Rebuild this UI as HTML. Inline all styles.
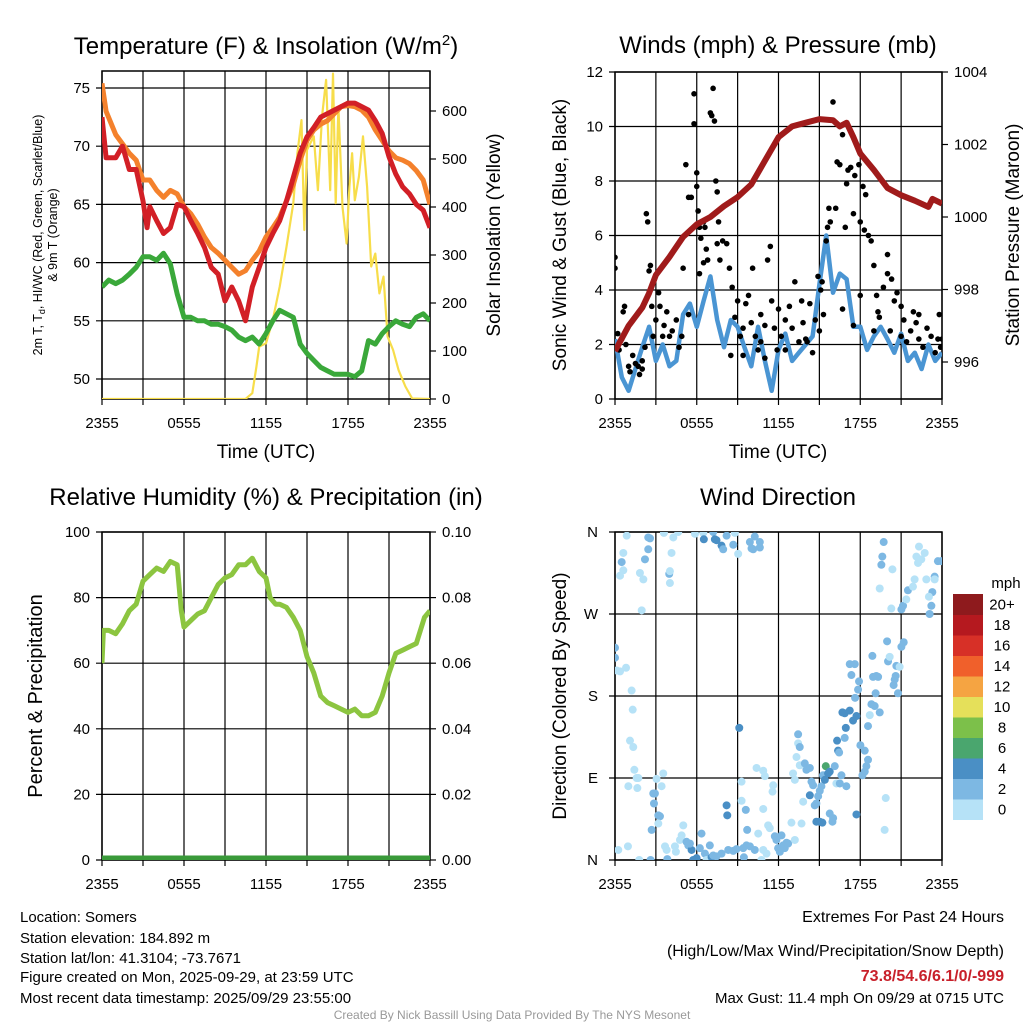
<!DOCTYPE html>
<html><head><meta charset="utf-8"><style>
body{margin:0;background:#fff}
svg{display:block;font-family:"Liberation Sans",Arial,sans-serif}
</style></head><body>
<svg id="root" width="1024" height="1024" viewBox="0 0 1024 1024">
<defs>
<clipPath id="c1"><rect x="102" y="71" width="328" height="328"/></clipPath>
<clipPath id="c2"><rect x="615" y="72" width="327" height="327"/></clipPath>
<clipPath id="c3"><rect x="102" y="532" width="328" height="328"/></clipPath>
<clipPath id="c4"><rect x="615" y="532" width="327" height="328"/></clipPath>
</defs>
<g font-size="24" text-anchor="middle" fill="#000">
<text x="266" y="54">Temperature (F) &amp; Insolation (W/m<tspan dy="-9" font-size="15">2</tspan><tspan dy="9">)</tspan></text>
<text x="778" y="53">Winds (mph) &amp; Pressure (mb)</text>
<text x="266" y="505">Relative Humidity (%) &amp; Precipitation (in)</text>
<text x="778" y="505">Wind Direction</text>
</g>
<g font-size="19" text-anchor="middle">
<text x="266" y="458">Time (UTC)</text>
<text x="778" y="458">Time (UTC)</text>
</g>
<g font-size="12.5" text-anchor="middle">
<text transform="translate(42,235) rotate(-90)">2m T, T<tspan font-size="9" dy="3">d</tspan><tspan dy="-3">, HI/WC (Red, Green, Scarlet/Blue)</tspan></text>
<text transform="translate(57,235) rotate(-90)">&amp; 9m T (Orange)</text>
</g>
<g font-size="19" text-anchor="middle">
<text transform="translate(500,235) rotate(-90)">Solar Insolation (Yellow)</text>
<text transform="translate(566,235) rotate(-90)">Sonic Wind &amp; Gust (Blue, Black)</text>
<text transform="translate(1019,235) rotate(-90)">Station Pressure (Maroon)</text>
<text transform="translate(42,696) rotate(-90)" font-size="20">Percent &amp; Precipitation</text>
<text transform="translate(566,696) rotate(-90)">Direction (Colored By Speed)</text>
</g>
<g font-size="15" fill="#000">
<text x="20" y="922">Location: Somers</text>
<text x="20" y="943">Station elevation: 184.892 m</text>
<text x="20" y="963">Station lat/lon: 41.3104; -73.7671</text>
<text x="20" y="982">Figure created on Mon, 2025-09-29, at 23:59 UTC</text>
<text x="20" y="1003">Most recent data timestamp: 2025/09/29 23:55:00</text>
<g text-anchor="end">
<text x="1004" y="922" font-size="16">Extremes For Past 24 Hours</text>
<text x="1004" y="956" font-size="16">(High/Low/Max Wind/Precipitation/Snow Depth)</text>
<text x="1004" y="981" font-size="16" font-weight="bold" fill="#c8202a">73.8/54.6/6.1/0/-999</text>
<text x="1004" y="1003">Max Gust: 11.4 mph On 09/29 at 0715 UTC</text>
</g>
<text x="512" y="1019" font-size="12" fill="#999" text-anchor="middle">Created By Nick Bassill Using Data Provided By The NYS Mesonet</text>
</g>
<g id="charts"></g>
</svg>
<script>
// ---------- data ----------
const xTickLabels = ["2355","0555","1155","1755","2355"];
const tempHours = [0,0.3,1,1.5,2,2.5,3,3.3,3.5,4,4.5,5,5.5,6,6.5,7,7.5,8,8.5,9,9.5,10,10.5,11,11.5,12,12.5,13,13.5,14,14.5,15,15.5,16,16.5,17,17.5,18,18.5,19,19.5,20,20.5,21,21.5,22,22.5,23,23.5,24];
const temp2m = [72.5,69,69,70,68,68,65.3,63,64.8,63.6,62.5,63,65,64.8,63.6,62.5,61.3,59.6,59,56.7,57.9,56.7,55,57.9,59.6,61.3,62.5,63.6,65.3,67.3,69.4,70.8,71.6,72.5,72.8,73.1,73.4,73.7,73.7,73.4,73.1,72.2,71.1,69.1,67.6,66.5,65.9,65,64.5,63];
const temp9m = [75.4,73,71,70.2,69.4,68.8,67.1,67.1,67.1,66.2,65.6,66.2,65.9,64.8,64.2,63.3,62.2,61.3,60.8,60.2,59.6,59,59.3,60.2,61,62.2,63,63.9,65.3,66.7,68.8,70.5,71.4,71.9,72.2,72.8,73.4,73.5,73.4,73.1,72.5,71.4,70.5,69.6,69,68.8,68.5,67.9,67.1,65];
const dewHours = [0,0.5,1,1.5,2,2.5,3,3.5,4,4.5,5,5.5,6,6.5,7,7.5,8,8.5,9,9.5,10,10.5,11,11.5,12,12.5,13,13.5,14,14.5,15,15.5,16,16.5,17,17.5,18,18.5,19,19.5,20,20.5,21,21.5,22,22.5,23,23.5,24];
const dewPoint = [57.9,58.5,58.2,58.5,59,59.6,60.5,60.5,60.2,60.8,59.9,57.3,55.3,55.3,55,55,54.7,54.7,54.5,54.2,53.6,53.3,53.6,53,53.9,55,55.9,55.6,55.3,53,52.2,51.6,51,50.7,50.4,50.4,50.4,50.2,50.7,53.3,53,53.9,54.5,55,54.7,54.5,55.3,55.6,55];
const solarHours = [0,10.5,11,11.3,11.5,12,12.5,13,13.5,14,14.3,14.6,14.8,15,15.5,15.8,16.1,16.4,16.7,16.9,17.1,17.3,17.6,17.9,18.1,18.3,18.5,18.8,19.1,19.4,19.7,20,20.3,20.6,20.9,21.3,21.7,22.2,22.7,24];
const solar = [0,0,12,67,109,116,165,234,317,408,512,581,352,519,547,435,588,665,435,678,408,609,400,324,442,512,414,463,547,442,276,303,220,255,130,102,60,26,1,0];
const tempTicks = [50,55,60,65,70,75];
const solarTicks = [0,100,200,300,400,500,600];

const windHours = [0,0.5,1,1.5,2,2.5,3,3.5,4,4.5,5,5.5,6,6.5,7,7.5,8,8.5,9,9.5,10,10.5,11,11.5,12,12.5,13,13.5,14,14.5,15,15.5,16,16.5,17,17.5,18,18.5,19,19.5,20,20.5,21,21.5,22,22.5,23,23.5,24];
const windSpeed = [2.2,0.8,0.3,1.1,1.9,2.65,1.4,2,1.2,1.4,3.1,3.5,2.65,3.6,4.5,2.9,1.9,2.9,2.65,1.9,1.2,2.65,1.4,0.3,1.8,2.4,1.4,1.7,2,2.3,4.2,6,3.9,4.6,4.4,2.65,2.65,1.8,2.3,2.65,2.2,1.7,2.4,1.4,1.7,1.1,2,1.4,1.7];
const pressHours = [0,1,2,2.5,3,4,5,6,7,8,9,10,11,12,13,14,15,16,16.5,17,17.5,18,19,20,21,22,23,23.3,24];
const pressure = [996.3,997,997.5,997.9,998.4,998.9,999.45,999.8,1000,1000.3,1000.55,1000.9,1001.55,1002.2,1002.5,1002.6,1002.7,1002.67,1002.5,1002.6,1002.2,1001.75,1001.3,1000.8,1000.6,1000.45,1000.28,1000.5,1000.37];
const gustHours = [0,0,0.2,0.3,0.5,0.6,0.7,0.8,1,1.1,1.3,1.5,1.7,1.8,2,2,2.2,2.3,2.4,2.5,2.6,2.7,2.8,3,3.2,3.3,3.5,3.6,3.8,4,4.2,4.5,4.7,5,5.2,5.4,5.6,5.8,5.8,6,6,6.1,6.2,6.3,6.5,6.6,6.5,6.7,7,7.1,7.2,7.3,7.4,7.5,7.6,7.5,7.7,7.9,8.2,8.4,8.6,9,9.2,9.4,9.6,9.8,10,10.1,10.3,10.5,10.7,11,11.2,11.4,11.5,11.7,11.9,12.2,12.5,12.8,12.5,13,13.2,13.5,13.8,14,14.3,14.5,14.7,15,15.1,15.3,15.5,15.6,15.7,15.8,16,16.2,16.3,16.5,16.7,16.9,17,17.1,17.3,17.5,17.6,17.9,18.2,18.4,18,18.3,18.6,18.8,19,19.2,19.4,19.7,20,20,20.3,20.5,20.7,21,21.2,21.4,21.7,21.9,22.1,22.3,22.6,22.9,23.2,23.5,23.7,24,23.9,23.8,20.2,19,18,17.5,16.7,14.9,12,11,10.7,9.4,8.8,8.5,5.4,4.9,6.2,6.8,13.7,14.1,15.2,19.3,21,22.3];
const gustSpeed = [5.2,4.8,2.4,1.8,2.2,3.2,3.4,2,1.2,1,1.6,1.3,1.2,0.9,1.4,1.1,1.9,6.8,6.5,4.7,4.9,3.4,2.3,2.9,3.9,3.4,2.3,2.7,3.2,2.3,2.5,2.9,1.9,4.8,8.6,7.4,7.4,11.2,10.1,8.3,7.8,6.9,6.3,5.9,6.5,6.3,5,5.5,10.5,10.4,11.4,10.2,8,7.6,6.5,5.7,5.1,5.8,5.7,4.8,4.1,3.6,2.3,2.6,3.5,3.8,2.8,4.8,2.3,1.8,2.1,2.7,5.1,5.6,3.6,2.6,1.8,2.3,2.9,3.4,1.8,2.6,4.3,2.1,2.8,2.2,3.5,1.7,2.9,2.5,4,3.1,5.8,6.3,7,6.5,10.9,7,8.7,8.6,9.7,6.3,7.9,8.4,8.5,6.8,8.2,8.6,7.8,7.5,6.5,6.2,6,5.8,4.9,3.8,3,4.1,5.3,4.6,4.4,3.6,3.9,3.4,2.9,2.1,2.5,3.2,2.8,2.2,1.9,2.6,2.3,1.7,2.2,2.2,1.9,3.1,2.5,2.5,3.8,2.7,3.3,4.5,3.3,1.5,3.1,1.6,3,1.6,3.1,2.3,4.6,5.1,3.6,2.1,4.3,3.2,2.3,3.1];
const windTicks = [0,2,4,6,8,10,12];
const pressTicks = [996,998,1000,1002,1004];

const rhHours = [0,0.1,0.5,1,1.5,2,2.5,3,3.5,4,4.5,5,5.5,5.8,6,6.5,7,7.5,8,8.5,9,9.5,10,10.5,11,11.5,12,12.3,12.7,13,13.5,14,14.5,15,15.5,16,16.5,17,17.5,18,18.5,19,19.5,20,20.5,21,21.5,22,22.5,23,23.3,23.6,24];
const rhValues = [60,70,70,69,72,76,78,85,87,89,88,91,90,76,71,73,75,76,80,84,86,87,90,90,92,88,86,80,78,78,77,74,70,62,57,50,48,47,46,45,46,44,44,45,50,57,63,64,65,66,70,74,76];
const precipHours = [0,24];
const precipValues = [0,0];
const rhTicks = [0,20,40,60,80,100];
const precipTicks = ["0.00","0.02","0.04","0.06","0.08","0.10"];

const dirHours = [0.86,2.44,2.57,0.61,2.44,2.2,0.49,0.37,0.61,1.83,2.08,1.96,3.59,4.28,4.64,4.15,4.03,3.98,4.03,5.87,6.48,7.21,6.52,7.33,7.45,7.82,7.94,8.19,8.68,8.8,9.04,9.9,10.26,10.63,10.63,10.02,10.14,19.72,19.62,19.55,20.36,19.43,20.28,21.02,21.14,21.38,21.5,21.87,21.99,22.31,22.12,22.48,22.73,22.24,22.85,23.46,23.46,23.7,23.95,23.29,23.04,23.22,23.09,0,0,0.12,0.37,0.81,1.22,1.3,1.1,1.34,1.42,1.59,1.71,0.98,1.64,3.05,3.54,3.42,2.81,2.93,2.86,3.18,3.3,3.18,2.69,0.95,0.24,1.78,2.61,3.84,3.67,3.79,4.4,4.47,4.89,4.77,5.01,5.25,5.38,5.62,5.5,5.74,5.99,6.35,6.23,6.6,6.72,6.96,7.09,7.21,7.82,7.45,8.31,8.68,8.92,9.41,9.46,9.65,9.9,10.26,10.75,11.12,10.88,11.24,11.36,11.73,11.85,11.97,12.1,12.22,12.34,12.46,12.59,12.71,13.2,12.95,13.69,13.81,8.19,8.24,9.6,9.7,10.51,10.88,9.29,9.29,9.12,10.39,10.88,11,11.61,11.56,13.07,13.2,13.32,13.56,13.44,13.44,13.56,13.93,14.05,14.3,14.42,14.54,14.3,14.66,14.78,14.91,15.03,15.15,15.27,15.4,15.47,15.64,15.76,16.13,16.25,16.5,16.62,16.98,15.76,16.01,15.96,14.78,15.03,15.22,16.3,16.37,16.45,16.86,16.94,16.69,16.86,17.23,17.47,17.72,17.23,17.6,17.35,17.91,17.84,17.62,18.01,18.33,18.57,18.45,18.33,18.16,17.72,18.57,18.7,18.82,19.06,19.43,18.89,18.94,19.18,19.31,19.13,20.04,19.97,20.16,20.65,20.6,20.53,20.45,20.77,21.02,21.19,20.89,19.87,19.79];
const dirDegrees = [356,354,353,337,341,330,327,312,318,315,308,274,359,354,360,337,304,314,317,358,359,360,352,352,351,345,341,356,346,359,336,349,355,349,343,342,341,349,333,324,319,298,276,275,279,286,296,300,308,344,333,330,337,326,308,311,308,328,328,294,289,279,270,233,222,208,207,211,186,165,131,124,99,90,90,81,79,89,95,81,73,73,62,49,48,40,33,15,11,0,0,1,15,11,15,9,27,22,38,20,16,11,18,0,2,29,13,7,0,16,3,5,7,4,11,10,12,13,3,16,15,11,0,7,11,38,35,26,22,13,9,27,16,13,19,18,22,41,40,64,60,49,55,33,29,56,65,86,145,101,98,92,82,75,95,88,113,104,138,128,124,106,99,101,86,82,71,60,62,70,76,81,93,88,103,95,97,103,84,84,93,81,51,46,42,42,42,41,131,120,118,134,145,162,161,164,153,158,215,215,203,196,187,178,126,120,110,103,97,93,50,147,159,171,169,162,224,201,202,201,183,218,240,223,213,202,198,192,183,234,239,212,68,33];
const dirSpeeds = [1,3,3,1,3,3,3,1,1,1,1,1,1,1,1,1,1,3,1,1,1,3,4,5,5,5,3,3,3,1,1,3,3,3,3,3,3,3,3,3,1,1,1,3,3,1,3,1,1,1,1,1,1,1,1,3,1,3,3,3,1,3,3,3,3,1,1,1,1,1,1,1,1,1,1,1,1,1,1,1,3,3,3,3,3,1,3,1,1,1,3,3,1,1,1,1,1,1,1,3,3,5,3,5,5,3,3,3,1,3,5,3,3,3,3,3,3,3,3,3,3,3,1,1,1,1,1,3,3,3,3,3,3,3,3,3,1,1,1,1,5,5,3,3,1,1,1,1,5,1,1,1,1,1,1,1,1,1,3,1,3,3,3,3,3,3,5,3,3,3,3,3,3,5,7,5,5,3,1,3,3,3,3,3,3,5,5,5,5,5,3,3,5,5,5,5,5,5,3,3,3,3,3,3,3,3,3,3,3,3,5,3,1,3,3,3,3,3,3,3,3,3,3,1,3,3,3,3,3,3,3,1,1,1];
const dirTickLabels = ["N","E","S","W","N"];
const dirTicks = [0,90,180,270,360];
const speedBins = ["0","2","4","6","8","10","12","14","16","18","20+"];
const speedColors = ["#b6e2f7","#7db8e3","#4a8fc5","#4aa66e","#7cc04a","#e5e05a","#f5a442","#f0602b","#d73027","#b5191f","#8e1a1d"];

// ---------- helpers ----------
const NS = "http://www.w3.org/2000/svg";
const root = document.getElementById("charts");
function mk(tag, attrs, parent) {
  const e = document.createElementNS(NS, tag);
  for (const k in attrs) e.setAttribute(k, attrs[k]);
  (parent || root).appendChild(e);
  return e;
}
function txt(x, y, s, anchor, size, parent) {
  const t = mk("text", {x: x, y: y, "text-anchor": anchor, "font-size": size}, parent);
  t.textContent = s;
  return t;
}
function pathD(xs, ys, fx, fy) {
  return xs.map((v, i) => (i ? "L" : "M") + fx(v).toFixed(1) + "," + fy(ys[i]).toFixed(1)).join("");
}

function panelFrame(L, T, R, B, name) {
  const g = mk("g", {});
  
  
  const fx = h => L + h / 24 * (R - L);
  for (let h = 0; h <= 24; h += 3) {
    const gl = mk("line", {x1: fx(h), x2: fx(h), y1: T, y2: B + 6, stroke: "#000", "stroke-width": 1.2}, g);
    
    
  }
  xTickLabels.forEach((s, i) => {
    const t = txt(fx(i * 6), B + 29, s, "middle", 15, g);
    
    
  });
  const bx = mk("rect", {x: L, y: T, width: R - L, height: B - T, fill: "none", stroke: "#000", "stroke-width": 1.5}, g);
  
  
  return fx;
}
function hGrid(ys, L, R, leftLabels, rightLabels, rx, lx) {
  const g = mk("g", {});
  
  
  ys.forEach((y, i) => {
    const l = mk("line", {x1: L - 6, x2: R, y1: y, y2: y, stroke: "#000", "stroke-width": 1.2}, g);
    
    
    if (leftLabels) {
      const t = txt(lx, y + 5, leftLabels[i], "end", 15, g);
      
      
    }
  });
}
function rightTicks(ys, labels, R, g2) {
  ys.forEach((y, i) => {
    const l = mk("line", {x1: R, x2: R + 6, y1: y, y2: y, stroke: "#000", "stroke-width": 1.2});
    
    
    const t = txt(R + 12, y + 5, labels[i], "start", 15);
    
    
  });
}

// ---------- panel 1 ----------
(function () {
  const L = 102, T = 71, R = 430, B = 399;
  const fx = panelFrame(L, T, R, B, "temperature");
  const fy = v => 88 + (75 - v) * 11.64;
  const fs = v => 399 - v * 0.48;
  hGrid(tempTicks.map(fy), L, R, tempTicks.map(String), null, 0, 90);
  rightTicks(solarTicks.map(fs), solarTicks.map(String), R);
  const g = mk("g", {"clip-path": "url(#c1)", fill: "none", "stroke-linejoin": "round"});
  let p = mk("path", {d: pathD(solarHours, solar, fx, fs), stroke: "#f7dd4a", "stroke-width": 2.2}, g);
  
  
  p = mk("path", {d: pathD(dewHours, dewPoint, fx, fy), stroke: "#3aa83a", "stroke-width": 5}, g);
  
  
  p = mk("path", {d: pathD(tempHours, temp9m, fx, fy), stroke: "#f4812c", "stroke-width": 5}, g);
  
  
  p = mk("path", {d: pathD(tempHours, temp2m, fx, fy), stroke: "#d21f26", "stroke-width": 5}, g);
  
  
})();

// ---------- panel 2 ----------
(function () {
  const L = 615, T = 72, R = 942, B = 399;
  const fx = panelFrame(L, T, R, B, "winds");
  const fy = v => 399 - v * 27.25;
  const fp = v => 362 - (v - 996) * 36.25;
  hGrid(windTicks.map(fy), L, R, windTicks.map(String), null, 0, 603);
  rightTicks(pressTicks.map(fp), pressTicks.map(String), R);
  const g = mk("g", {"clip-path": "url(#c2)", fill: "none", "stroke-linejoin": "round"});
  let p = mk("path", {d: pathD(windHours, windSpeed, fx, fy), stroke: "#4a95d3", "stroke-width": 4.5}, g);
  
  
  gustHours.forEach((h, i) => {
    const c = mk("circle", {cx: fx(h), cy: fy(gustSpeed[i]), r: 2.8, fill: "#000"}, g);
    
    
  });
  p = mk("path", {d: pathD(pressHours, pressure, fx, fp), stroke: "#a01b1b", "stroke-width": 6}, g);
  
  
})();

// ---------- panel 3 ----------
(function () {
  const L = 102, T = 532, R = 430, B = 860;
  const fx = panelFrame(L, T, R, B, "humidity");
  const fy = v => 860 - v * 3.28;
  const fq = v => 860 - v * 3280;
  hGrid(rhTicks.map(fy), L, R, rhTicks.map(String), null, 0, 90);
  rightTicks(rhTicks.map(fy), precipTicks, R);
  const g = mk("g", {"clip-path": "url(#c3)", fill: "none", "stroke-linejoin": "round"});
  let p = mk("path", {d: pathD(rhHours, rhValues, fx, fy), stroke: "#8cc540", "stroke-width": 5}, g);
  
  
  p = mk("path", {d: pathD(precipHours, precipValues, fx, fq), stroke: "#3a9a3a", "stroke-width": 9}, g);
  
  
})();

// ---------- panel 4 ----------
(function () {
  const L = 615, T = 532, R = 942, B = 860;
  const fx = panelFrame(L, T, R, B, "wind-direction");
  const fy = v => 860 - v * 328 / 360;
  hGrid(dirTicks.map(fy), L, R, dirTickLabels, null, 0, 598);
  const g = mk("g", {"clip-path": "url(#c4)"});
  dirHours.forEach((h, i) => {
    const bin = Math.min(10, Math.floor(dirSpeeds[i] / 2));
    const c = mk("circle", {cx: fx(h), cy: fy(dirDegrees[i]), r: 4, fill: speedColors[bin]}, g);
    
    
  });
  const cb = mk("g", {});
  
  
  const t = txt(1006, 588, "mph", "middle", 15, cb);
  
  
  const top = 594, bh = 20.5;
  speedBins.forEach((s, i) => {
    const y = top + (10 - i) * bh;
    const r = mk("rect", {x: 953, y: y, width: 30, height: bh + 0.5, fill: speedColors[i]}, cb);
    
    
    const l = txt(1002, y + bh / 2 + 5, s, "middle", 15, cb);
    
    
  });
})();
</script>
</body></html>
